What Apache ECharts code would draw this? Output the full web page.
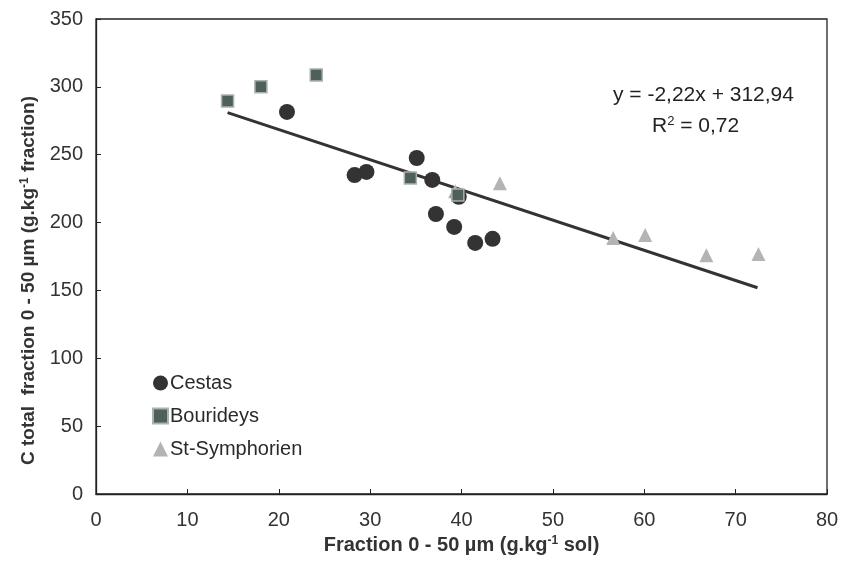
<!DOCTYPE html>
<html><head><meta charset="utf-8">
<script src="https://cdn.jsdelivr.net/npm/echarts@6/dist/echarts.min.js"></script>
<style>html,body{margin:0;padding:0;background:#fff}#c{width:846px;height:580px}</style>
</head><body><div id="c"></div>
<script>
const cestas = [[20.9,281.5],[28.3,235],[29.6,237.3],[35.1,247.6],[36.8,231.4],[37.2,206.3],[39.2,196.8],[39.7,219],[41.5,185],[43.4,188]];
const bourideys = [[14.4,289.6],[18.05,300],[24.1,308.8],[34.4,232.9],[39.6,220.3]];
const stSymphorien = [[39.3,223],[44.2,229],[56.6,188.6],[60.1,190.9],[66.8,176],[72.5,176.9]];
const trend = [[14.4,281],[72.4,152]];
const equationText = 'y = -2,22x + 312,94';
const r2Text = ['R', '2', ' = 0,72'];
const xTicks = [0,10,20,30,40,50,60,70,80];
const yTicks = [0,50,100,150,200,250,300,350];

const F = "'Liberation Sans', Arial, sans-serif";
const chart = echarts.init(document.getElementById('c'));
chart.setOption({
  animation: false,
  grid: {left: 96, right: 19, top: 19, bottom: 86, show: true, borderColor: '#222', borderWidth: 1.3},
  legend: {
    orient: 'vertical', left: 147, top: 368, itemGap: 13, itemWidth: 15, itemHeight: 15,
    textStyle: {fontFamily: F, fontSize: 20, color: '#2a2a2a', padding: [0,0,0,-3]},
    data: ['Cestas','Bourideys','St-Symphorien']
  },
  xAxis: {
    type: 'value', min: xTicks[0], max: xTicks[xTicks.length-1], interval: 10,
    splitLine: {show: false},
    axisLine: {lineStyle: {color: '#222', width: 1.3}},
    axisTick: {inside: true, length: 5, lineStyle: {color: '#222'}},
    axisLabel: {fontFamily: F, fontSize: 20, color: '#333', margin: 16},
    name: '{b|Fraction 0 - 50 µm (g.kg}{s|-1}{b| sol)}',
    nameLocation: 'middle', nameGap: 33,
    nameTextStyle: {rich: {b: {fontFamily: F, fontSize: 20, fontWeight: 'bold', color: '#333'}, s: {fontFamily: F, fontSize: 12, fontWeight: 'bold', color: '#333', verticalAlign: 'top', padding: [0,0,9,0]}}}
  },
  yAxis: {
    type: 'value', min: yTicks[0], max: yTicks[yTicks.length-1], interval: 50,
    splitLine: {show: false},
    axisLine: {lineStyle: {color: '#222', width: 1.3}},
    axisTick: {inside: true, length: 5, lineStyle: {color: '#222'}},
    axisLabel: {fontFamily: F, fontSize: 20, color: '#333', margin: 13},
    name: '{b|C total  fraction 0 - 50 µm (g.kg}{s|-1}{b| fraction)}',
    nameLocation: 'middle', nameGap: 56,
    nameTextStyle: {padding: [0, 48, 0, 0], rich: {b: {fontFamily: F, fontSize: 19, fontWeight: 'bold', color: '#333'}, s: {fontFamily: F, fontSize: 12, fontWeight: 'bold', color: '#333', verticalAlign: 'top', padding: [0,0,9,0]}}}
  },
  series: [
    {name: 'Cestas', type: 'scatter', data: cestas, symbol: 'circle', symbolSize: 16, itemStyle: {color: '#333', opacity: 1}, z: 4},
    {name: 'Bourideys', type: 'scatter', data: bourideys, symbol: 'rect', symbolSize: 12, itemStyle: {color: '#4f5f5a', borderColor: '#a8b4b0', borderWidth: 1.5, opacity: 1}, z: 5},
    {name: 'St-Symphorien', type: 'scatter', data: stSymphorien, symbol: 'triangle', symbolSize: 14, itemStyle: {color: '#b4b4b4', opacity: 1}, z: 3},
    {name: 'trend', type: 'line', data: trend, symbol: 'none', lineStyle: {color: '#333', width: 3}, z: 2, silent: true}
  ],
  graphic: [
    {type: 'text', left: 613, top: 85, style: {text: equationText, font: "21px " + F, fill: '#222'}},
    {type: 'text', left: 652, top: 115, style: {
      text: '{a|' + r2Text[0] + '}{s|' + r2Text[1] + '}{a|' + r2Text[2] + '}',
      rich: {a: {fontFamily: F, fontSize: 21, fill: '#222'}, s: {fontFamily: F, fontSize: 13, fill: '#222', verticalAlign: 'top', padding: [0,0,9,0]}}
    }}
  ]
});
</script></body></html>
